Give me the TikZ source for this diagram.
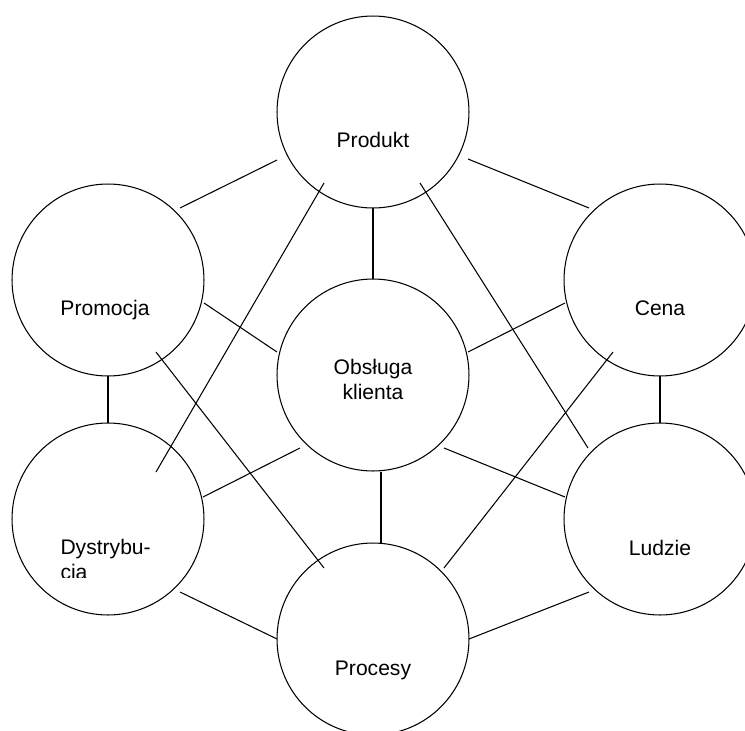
\documentclass[tikz,border=0pt]{standalone}
\usepackage{fontspec}
\setmainfont{Liberation Sans}
\usetikzlibrary{calc}

\begin{document}
\begin{tikzpicture}[x=0.02cm,y=-0.02cm,line width=0.6pt,
        krag/.style={draw,circle,minimum size=3.84cm,inner sep=0pt,outer sep=0pt},
        napis/.style={anchor=base,inner sep=0pt,font=\fontsize{12pt}{14.2pt}\selectfont}]
        \useasboundingbox (0,0) rectangle (745,731);

        % kola
        \node[krag] (produkt) at (373,112) {};
        \node[krag] (promocja) at (108,280) {};
        \node[krag] (cena) at (660,280) {};
        \node[krag] (obsluga) at (373,375) {};
        \node[krag] (dystrybucja) at (108,519) {};
        \node[krag] (ludzie) at (660,519) {};
        \node[krag] (procesy) at (373,639) {};

        % napisy
        \node[napis] (produkt-txt) at ($(produkt)+(0,35)$) {Produkt};
        \node[napis] (promocja-txt) at ($(promocja)+(-3,35)$) {Promocja};
        \node[napis] (cena-txt) at ($(cena)+(0,35)$) {Cena};
        \node[napis,align=center] (obsluga-txt) at ($(obsluga)+(0,24)$) {Obsługa\\klienta};
        \node[napis] (ludzie-txt) at ($(ludzie)+(0,36)$) {Ludzie};
        \node[napis] (procesy-txt) at ($(procesy)+(0,36)$) {Procesy};
        \begin{scope}
            \clip ($(dystrybucja)+(-96,-96)$) rectangle ($(dystrybucja)+(96,58)$);
            \node[napis,anchor=base west,align=left] (dystrybucja-txt) at ($(dystrybucja)+(-48,60)$) {Dystrybu-\\cja};
        \end{scope}

        % polaczenia
        \draw ($(produkt)+(-96,48)$) -- ($(promocja)+(72,-72)$);
        \draw ($(produkt)+(95,47)$) -- ($(cena)+(-71,-72)$);
        \draw (produkt.south) -- (obsluga.north);
        \draw ($(produkt)+(-49,71)$) -- ($(dystrybucja)+(48,-47)$);
        \draw ($(produkt)+(47,71)$) -- ($(ludzie)+(-72,-71)$);

        \draw ($(promocja)+(96,23)$) -- ($(obsluga)+(-96,-23)$);
        \draw ($(promocja)+(48,72)$) -- ($(procesy)+(-49,-71)$);
        \draw (promocja.south) -- (dystrybucja.north);

        \draw ($(cena)+(-95,23)$) -- ($(obsluga)+(95,-23)$);
        \draw ($(cena)+(-47,72)$) -- ($(procesy)+(71,-71)$);
        \draw (cena.south) -- (ludzie.north);

        \draw ($(obsluga)+(-73,73)$) -- ($(dystrybucja)+(95,-22)$);
        \draw ($(obsluga)+(71,73)$) -- ($(ludzie)+(-95,-22)$);
        \draw ($(obsluga)+(8,97)$) -- ($(procesy)+(8,-96)$);

        \draw ($(dystrybucja)+(72,73)$) -- (procesy.west);
        \draw (procesy.east) -- ($(ludzie)+(-71,73)$);
    \end{tikzpicture}
\end{document}
